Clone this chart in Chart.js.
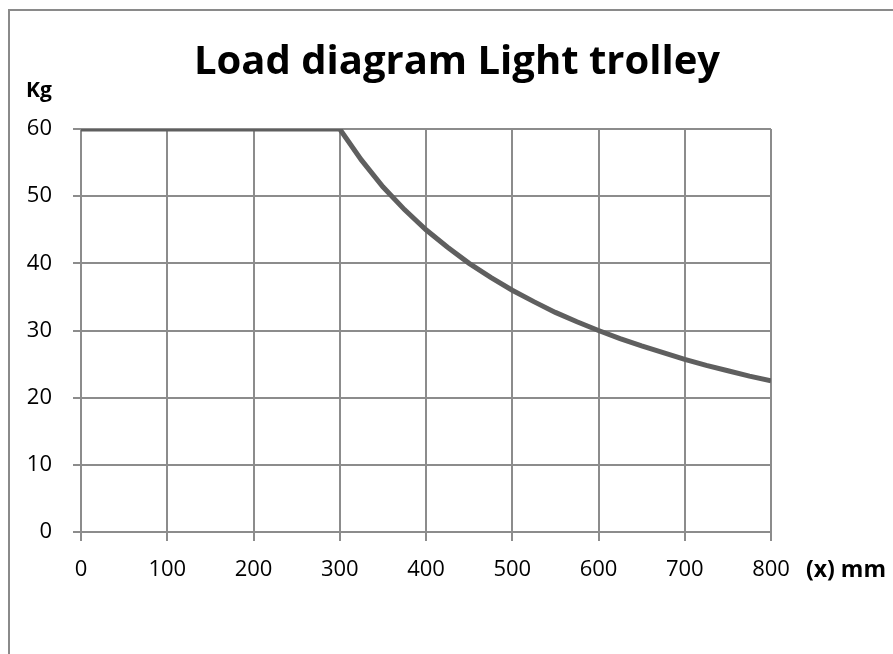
<!DOCTYPE html>
<html>
<head>
<meta charset="utf-8">
<script src="https://cdn.jsdelivr.net/npm/chart.js@4.4.0/dist/chart.umd.min.js"></script>
<style>
  html, body { margin: 0; padding: 0; background: #ffffff; }
  canvas { display: block; }
</style>
</head>
<body>
<canvas id="loadChart" width="893" height="654"></canvas>
<script>
// distance from the wall (mm) and allowed load (kg)
const distances = [0, 100, 200, 300, 325, 350, 375, 400, 425, 450, 475, 500, 525, 550, 575, 600, 625, 650, 675, 700, 725, 750, 775, 800];
const loads = [60, 60, 60, 60, 55.4, 51.4, 48, 45, 42.4, 40, 37.9, 36, 34.3, 32.7, 31.3, 30, 28.8, 27.7, 26.7, 25.7, 24.8, 24, 23.2, 22.5];
const chartTitle = "Load diagram Light trolley";
const yUnit = "Kg";
const xUnit = "(x) mm";

const points = distances.map((d, i) => ({ x: d, y: loads[i] }));
const gridGray = "#8c8c8c";
const labelFont = "'Open Sans', 'Liberation Sans', sans-serif";

// title sits centred on the whole frame, not on the plot, so it is drawn here
const frameAndTexts = {
  id: "frame_and_texts",
  afterDraw: (chart) => {
    const { ctx, chartArea } = chart;
    ctx.save();
    // outer frame, only top and left edges are visible
    ctx.strokeStyle = "#8a8a8a";
    ctx.lineWidth = 2;
    ctx.beginPath();
    ctx.moveTo(9, chart.height);
    ctx.lineTo(9, 10);
    ctx.lineTo(chart.width, 10);
    ctx.stroke();

    ctx.fillStyle = "#000000";
    ctx.textBaseline = "middle";
    ctx.textAlign = "center";
    ctx.font = "bold 40px " + labelFont;
    ctx.fillText(chartTitle, 457, 63);

    ctx.textAlign = "left";
    ctx.font = "bold 21px " + labelFont;
    ctx.fillText(yUnit, 26, 91);
    ctx.font = "bold 23px " + labelFont;
    ctx.fillText(xUnit, chartArea.right + 35, 570);
    ctx.restore();
  },
};

const loadChart = new Chart(document.getElementById("loadChart"), {
  type: "line",
  data: {
    datasets: [
      {
        label: "Load",
        data: points,
        borderColor: "#5f5f5f",
        borderWidth: 5,
        pointRadius: 0,
        tension: 0,
        fill: false,
      },
    ],
  },
  options: {
    responsive: false,
    animation: false,
    layout: {
      padding: { left: 0, right: 122, top: 129, bottom: 0 },
    },
    plugins: {
      legend: { display: false },
      tooltip: { enabled: false },
      title: { display: false },
    },
    scales: {
      x: {
        type: "linear",
        min: 0,
        max: 800,
        border: { color: gridGray, width: 2 },
        grid: { color: gridGray, lineWidth: 2, tickLength: 9 },
        ticks: {
          stepSize: 100,
          color: "#000000",
          padding: 16,
          maxRotation: 0,
          font: { family: labelFont, size: 22 },
        },
        afterFit: (scale) => {
          scale.height = 122;
        },
      },
      y: {
        min: 0,
        max: 60,
        border: { color: gridGray, width: 2 },
        grid: { color: gridGray, lineWidth: 2, tickLength: 8 },
        ticks: {
          stepSize: 10,
          color: "#000000",
          padding: 21,
          font: { family: labelFont, size: 22 },
        },
        afterFit: (scale) => {
          scale.width = 81;
        },
      },
    },
  },
  plugins: [frameAndTexts],
});
</script>
</body>
</html>
